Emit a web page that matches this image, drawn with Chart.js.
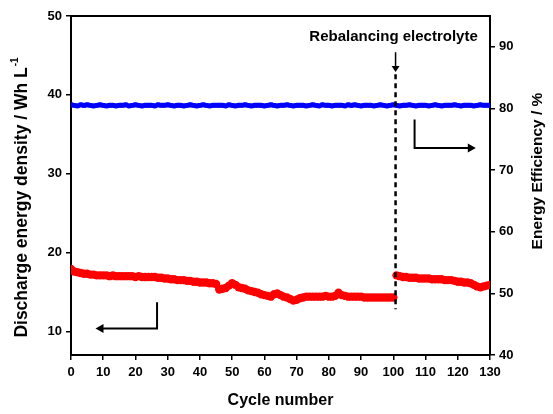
<!DOCTYPE html>
<html>
<head>
<meta charset="utf-8">
<script src="https://cdn.jsdelivr.net/npm/chart.js@4.4.0/dist/chart.umd.min.js"></script>
<style>
  html, body { margin: 0; padding: 0; background: #fff; }
  #wrap { width: 553px; height: 414px; }
</style>
</head>
<body>
<div id="wrap"><canvas id="myChart" width="553" height="414"></canvas></div>
<script>
// Discharge energy density (left axis), one value per cycle 0..130
let densityValues = [
  17.9, 17.6, 17.5, 17.4, 17.3, 17.3, 17.2, 17.2, 17.1, 17.1,
  17.1, 17.1, 17.0, 17.1, 17.0, 17.0, 17.0, 17.0, 17.0, 17.0,
  16.9, 17.0, 16.9, 16.9, 16.9, 16.9, 16.9, 16.8, 16.8, 16.7,
  16.7, 16.6, 16.6, 16.5, 16.5, 16.5, 16.4, 16.4, 16.3, 16.3,
  16.2, 16.2, 16.2, 16.1, 16.1, 16.0, 15.3, 15.4, 15.5, 15.8,
  16.1, 15.9, 15.6, 15.5, 15.4, 15.2, 15.1, 15.0, 14.9, 14.7,
  14.6, 14.5, 14.4, 14.7, 14.8, 14.6, 14.4, 14.3, 14.1, 13.9,
  14.0, 14.2, 14.3, 14.4, 14.4, 14.4, 14.4, 14.4, 14.4, 14.5,
  14.4, 14.4, 14.5, 14.9, 14.6, 14.5, 14.4, 14.4, 14.4, 14.4,
  14.4, 14.3, 14.3, 14.3, 14.3, 14.3, 14.3, 14.3, 14.3, 14.3,
  14.3, 17.1, 17.0, 16.9, 16.9, 16.8, 16.8, 16.8, 16.7, 16.7,
  16.7, 16.7, 16.6, 16.6, 16.6, 16.6, 16.5, 16.5, 16.5, 16.4,
  16.3, 16.3, 16.2, 16.2, 16.1, 15.9, 15.7, 15.6, 15.7, 15.8,
  15.9
];

// Energy efficiency (right axis), one value per cycle 0..130
let efficiencyValues = [
  80.6, 80.5, 80.4, 80.6, 80.5, 80.6, 80.5, 80.4, 80.5, 80.6,
  80.5, 80.4, 80.5, 80.5, 80.4, 80.5, 80.5, 80.6, 80.4, 80.5,
  80.6, 80.5, 80.4, 80.5, 80.5, 80.5, 80.4, 80.6, 80.5, 80.5,
  80.6, 80.5, 80.4, 80.5, 80.5, 80.4, 80.5, 80.6, 80.5, 80.4,
  80.5, 80.6, 80.5, 80.4, 80.5, 80.5, 80.5, 80.5, 80.4, 80.6,
  80.5, 80.4, 80.5, 80.5, 80.6, 80.5, 80.4, 80.5, 80.5, 80.5,
  80.4, 80.5, 80.6, 80.5, 80.4, 80.5, 80.5, 80.6, 80.5, 80.4,
  80.5, 80.5, 80.5, 80.4, 80.5, 80.6, 80.5, 80.4, 80.6, 80.5,
  80.5, 80.4, 80.5, 80.5, 80.5, 80.4, 80.6, 80.5, 80.6, 80.5,
  80.4, 80.5, 80.5, 80.5, 80.4, 80.5, 80.6, 80.5, 80.4, 80.5,
  80.6, 80.5, 80.4, 80.5, 80.5, 80.6, 80.5, 80.4, 80.5, 80.5,
  80.5, 80.4, 80.5, 80.6, 80.5, 80.4, 80.5, 80.5, 80.5, 80.6,
  80.5, 80.4, 80.5, 80.5, 80.5, 80.4, 80.5, 80.6, 80.5, 80.5,
  80.5
];

let leftTicks = [10, 20, 30, 40, 50];
let rightTicks = [40, 50, 60, 70, 80, 90];
let cycleTicks = [0, 10, 20, 30, 40, 50, 60, 70, 80, 90, 100, 110, 120, 130];

// Cycle after which the electrolyte was rebalanced (no line drawn across it)
let lastCycleBefore = 100;
let rebalanceCycle = 100.7;
let rebalanceText = 'Rebalancing electrolyte';
let leftTitle = 'Discharge energy density / Wh L';
let rightTitle = 'Energy Efficiency / %';

let fontFamily = '"Liberation Sans", Arial, sans-serif';

function toPoints(values) {
  let pts = [];
  values.forEach(function(v, i) {
    pts.push({ x: i, y: v });
  });
  return pts;
}

// Plot frame, axis titles, dashed marker, and the two axis arrows
let decorations = {
  id: 'decorations',
  afterDatasetsDraw: function(chart) {
    let ctx = chart.ctx;
    let area = chart.chartArea;
    let x = chart.scales.x;
    let y = chart.scales.y;
    let y1 = chart.scales.y1;
    ctx.save();
    ctx.strokeStyle = '#000';
    ctx.fillStyle = '#000';

    // top frame line
    ctx.lineWidth = 2;
    ctx.beginPath();
    ctx.moveTo(area.left, area.top);
    ctx.lineTo(area.right, area.top);
    ctx.stroke();

    // dashed rebalancing line
    let rx = x.getPixelForValue(rebalanceCycle);
    ctx.lineWidth = 2.5;
    ctx.setLineDash([5, 4]);
    ctx.beginPath();
    ctx.moveTo(rx, y.getPixelForValue(42.6));
    ctx.lineTo(rx, y.getPixelForValue(12.8));
    ctx.stroke();
    ctx.setLineDash([]);

    // small arrow from the label down to the dashed line
    ctx.lineWidth = 1.5;
    ctx.beginPath();
    ctx.moveTo(rx, y.getPixelForValue(45.4));
    ctx.lineTo(rx, y.getPixelForValue(43.6));
    ctx.stroke();
    drawHead(ctx, rx, y.getPixelForValue(42.9), 'down', 6, 4);

    ctx.font = 'bold 15px ' + fontFamily;
    ctx.textAlign = 'center';
    ctx.textBaseline = 'middle';
    ctx.fillText(rebalanceText, rx - 2, y.getPixelForValue(47.4));

    // left-pointing arrow (red -> left axis)
    ctx.lineWidth = 2;
    let lx = x.getPixelForValue(26.7);
    let ly = y.getPixelForValue(10.35);
    ctx.beginPath();
    ctx.moveTo(lx, y.getPixelForValue(13.7));
    ctx.lineTo(lx, ly);
    ctx.lineTo(x.getPixelForValue(9.5), ly);
    ctx.stroke();
    drawHead(ctx, x.getPixelForValue(7.6), ly, 'left', 8, 4.5);

    // right-pointing arrow (blue -> right axis)
    let ax = x.getPixelForValue(106.6);
    let ay = y1.getPixelForValue(73.6);
    ctx.beginPath();
    ctx.moveTo(ax, y1.getPixelForValue(78.2));
    ctx.lineTo(ax, ay);
    ctx.lineTo(x.getPixelForValue(123.5), ay);
    ctx.stroke();
    drawHead(ctx, x.getPixelForValue(125.6), ay, 'right', 8, 4.5);

    // left axis title with superscript -1, rotated
    ctx.save();
    ctx.translate(22, 198);
    ctx.rotate(-Math.PI / 2);
    ctx.font = 'bold 17.5px ' + fontFamily;
    let mainW = ctx.measureText(leftTitle).width;
    ctx.font = 'bold 10px ' + fontFamily;
    let supW = ctx.measureText('-1').width;
    let startX = -(mainW + supW) / 2;
    ctx.textAlign = 'left';
    ctx.font = 'bold 17.5px ' + fontFamily;
    ctx.fillText(leftTitle, startX, 0);
    ctx.font = 'bold 10px ' + fontFamily;
    ctx.fillText('-1', startX + mainW + 1, -7);
    ctx.restore();

    // right axis title, rotated the same way
    ctx.save();
    ctx.translate(538, 171);
    ctx.rotate(-Math.PI / 2);
    ctx.font = 'bold 15.5px ' + fontFamily;
    ctx.textAlign = 'center';
    ctx.fillText(rightTitle, 0, 0);
    ctx.restore();

    ctx.restore();
  }
};

function drawHead(ctx, px, py, dir, len, half) {
  ctx.beginPath();
  if (dir === 'left') {
    ctx.moveTo(px, py);
    ctx.lineTo(px + len, py - half);
    ctx.lineTo(px + len, py + half);
  } else if (dir === 'right') {
    ctx.moveTo(px, py);
    ctx.lineTo(px - len, py - half);
    ctx.lineTo(px - len, py + half);
  } else {
    ctx.moveTo(px, py);
    ctx.lineTo(px - half, py - len);
    ctx.lineTo(px + half, py - len);
  }
  ctx.closePath();
  ctx.fill();
}

function axisFont(size) {
  return { family: fontFamily, size: size, weight: 'bold' };
}

let ctx = document.getElementById('myChart');
let myChart = new Chart(ctx, {
  type: 'line',
  data: {
    datasets: [
      {
        label: 'Energy efficiency',
        data: toPoints(efficiencyValues),
        yAxisID: 'y1',
        borderColor: '#0000ff',
        backgroundColor: '#0000ff',
        borderWidth: 5,
        pointStyle: 'rect',
        pointRadius: 3,
        pointBorderWidth: 0,
        tension: 0
      },
      {
        label: 'Discharge energy density',
        data: toPoints(densityValues),
        yAxisID: 'y',
        borderColor: '#ff0000',
        backgroundColor: '#ff0000',
        borderWidth: 5,
        pointRadius: 4.2,
        pointBorderWidth: 0,
        tension: 0,
        segment: {
          borderColor: function(c) { return c.p0.parsed.x === lastCycleBefore ? 'rgba(0,0,0,0)' : undefined; }
        }
      }
    ]
  },
  options: {
    responsive: false,
    animation: false,
    layout: { padding: { top: 16, left: 0, right: 0, bottom: 0 } },
    plugins: {
      legend: { display: false },
      tooltip: { enabled: false }
    },
    scales: {
      x: {
        type: 'linear',
        min: 0,
        max: 130,
        afterBuildTicks: function(s) { s.ticks = cycleTicks.map(function(v) { return { value: v }; }); },
        afterFit: function(s) { s.height = 59; },
        ticks: { color: '#000', font: axisFont(13), padding: 5, maxRotation: 0, autoSkip: false },
        grid: { drawOnChartArea: false, tickLength: 5, color: '#000', lineWidth: 1.5 },
        border: { color: '#000', width: 2 },
        title: { display: true, text: 'Cycle number', color: '#000', font: axisFont(16), padding: { top: 6 } }
      },
      y: {
        position: 'left',
        min: 7,
        max: 50,
        afterBuildTicks: function(s) { s.ticks = leftTicks.map(function(v) { return { value: v }; }); },
        afterFit: function(s) { s.width = 71; },
        ticks: { color: '#000', font: axisFont(13), padding: 4 },
        grid: { drawOnChartArea: false, tickLength: 5, color: '#000', lineWidth: 1.5 },
        border: { color: '#000', width: 2 }
      },
      y1: {
        position: 'right',
        min: 40,
        max: 95,
        afterBuildTicks: function(s) { s.ticks = rightTicks.map(function(v) { return { value: v }; }); },
        afterFit: function(s) { s.width = 63; },
        ticks: { color: '#000', font: axisFont(13), padding: 4 },
        grid: { drawOnChartArea: false, tickLength: 5, color: '#000', lineWidth: 1.5 },
        border: { color: '#000', width: 2 }
      }
    }
  },
  plugins: [decorations]
});
</script>
</body>
</html>
